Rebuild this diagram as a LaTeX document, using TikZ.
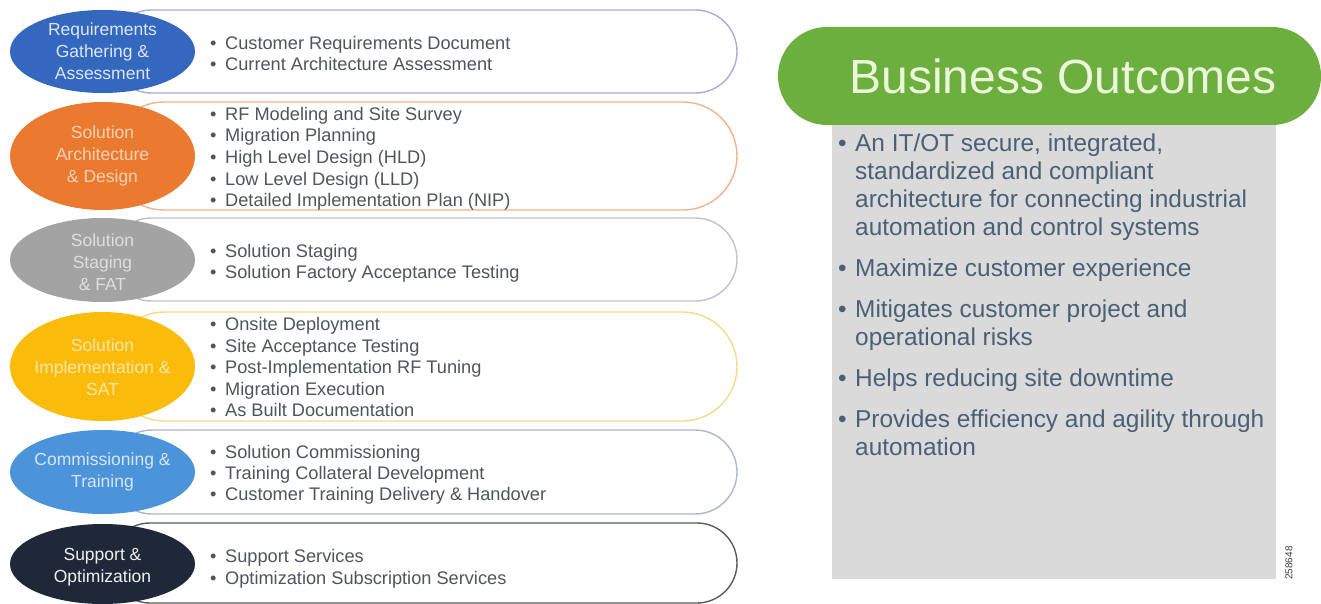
\documentclass[tikz,border=0pt]{standalone}
\usepackage{fontspec}
\setmainfont{Liberation Sans}
\usetikzlibrary{shapes.geometric}
\definecolor{eBlue}{HTML}{3467BE}
\definecolor{eOrange}{HTML}{E97A2F}
\definecolor{eGrey}{HTML}{A3A3A3}
\definecolor{eYellow}{HTML}{FBBB0A}
\definecolor{eLBlue}{HTML}{4C94DA}
\definecolor{eNavy}{HTML}{1F2838}
\definecolor{oBlue}{HTML}{A9ABDA}
\definecolor{oOrange}{HTML}{F2B08C}
\definecolor{oGrey}{HTML}{BFC3CF}
\definecolor{oYellow}{HTML}{F6D98A}
\definecolor{oLBlue}{HTML}{AEB8C8}
\definecolor{oNavy}{HTML}{5A5A5A}
\definecolor{lBlue}{HTML}{DCE6F7}
\definecolor{lOrange}{HTML}{FAD2B5}
\definecolor{lGrey}{HTML}{DEDEDE}
\definecolor{lYellow}{HTML}{FEE7A8}
\definecolor{lLBlue}{HTML}{D6E6F6}
\definecolor{lNavy}{HTML}{F0F0F0}
\definecolor{listc}{HTML}{50555B}
\definecolor{outc}{HTML}{4A6076}
\definecolor{gGreen}{HTML}{6CAF3F}
\definecolor{gText}{HTML}{EAF7D8}
\definecolor{boxGrey}{HTML}{DADADA}
\begin{document}
\begin{tikzpicture}[x=1pt,y=-1pt,
  capsule/.style={line width=1.4pt,fill=white},
  phase/.style={ellipse,draw=none,minimum width=185pt,inner sep=0pt},
  plabel/.style={align=center,font=\fontsize{17.5}{22}\selectfont,inner sep=0pt},
  item/.style={anchor=base west,inner sep=0pt,text=listc,font=\fontsize{18.2}{21}\selectfont},
  outitem/.style={anchor=base west,inner sep=0pt,text=outc,font=\fontsize{24.4}{28}\selectfont}]
\useasboundingbox (0,0) rectangle (1321,604);

% ---------- left phases ----------
% row 1
\draw[capsule,draw=oBlue,rounded corners=41.5pt] (110,10) rectangle (737,93);
\node[phase,fill=eBlue,minimum height=83pt] (e1) at (102.5,51.5) {};
\node[plabel,text=lBlue] (t1) at (e1) {Requirements\\Gathering \&\\Assessment};
% row 2
\draw[capsule,draw=oOrange,rounded corners=54pt] (110,102) rectangle (737,210);
\node[phase,fill=eOrange,minimum height=108pt] (e2) at (102.5,156) {};
\node[plabel,text=lOrange] (t2) at (e2) {Solution\\Architecture\\\& Design};
% row 3
\draw[capsule,draw=oGrey,rounded corners=41.5pt] (110,218) rectangle (737,301);
\node[phase,fill=eGrey,minimum height=84pt] (e3) at (102.5,260) {};
\node[plabel,text=lGrey] (t3) at (102.5,262) {Solution\\Staging\\\& FAT};
% row 4
\draw[capsule,draw=oYellow,rounded corners=54.5pt] (110,312) rectangle (737,421);
\node[phase,fill=eYellow,minimum height=109pt] (e4) at (102.5,366.5) {};
\node[plabel,text=lYellow] (t4) at (102.5,367) {Solution\\Implementation \&\\SAT};
% row 5
\draw[capsule,draw=oLBlue,rounded corners=42pt] (110,430) rectangle (737,514);
\node[phase,fill=eLBlue,minimum height=84pt] (e5) at (102.5,472) {};
\node[plabel,text=lLBlue] (t5) at (e5) {Commissioning \&\\Training};
% row 6
\draw[capsule,draw=oNavy,rounded corners=40pt] (110,523) rectangle (737,603);
\node[phase,fill=eNavy,minimum height=80pt] (e6) at (102.5,564) {};
\node[plabel,text=lNavy] (t6) at (102.5,567) {Support \&\\Optimization};

% ---------- items ----------
\foreach \yy/\tx in {43/Customer Requirements Document,64/Current Architecture Assessment,
  114/RF Modeling and Site Survey,135/Migration Planning,157/High Level Design (HLD),
  179/Low Level Design (LLD),200/Detailed Implementation Plan (NIP),
  251/Solution Staging,272/Solution Factory Acceptance Testing,
  324/Onsite Deployment,346/Site Acceptance Testing,367/Post-Implementation RF Tuning,
  389/Migration Execution,410/As Built Documentation,
  452/Solution Commissioning,473/Training Collateral Development,494/Customer Training Delivery \& Handover,
  556/Support Services,578/Optimization Subscription Services}
  \node[item] at (210,\yy+6.4) {\makebox[15pt][l]{•}\tx};

% ---------- business outcomes ----------
\fill[boxGrey] (832,110) rectangle (1276,579);
\node[fill=gGreen,rounded corners=49pt,minimum width=543pt,minimum height=98pt,inner sep=0pt]
  (bo) at (1049.5,76) {};
\node[text=gText,font=\fontsize{48}{50}\selectfont,inner sep=0pt] (bot) at (1063,76) {Business Outcomes};

\node[outitem] (b1) at (838,143+8.6) {\makebox[17pt][l]{•}An IT/OT secure, integrated,};
\node[outitem] (b1b) at (855,171+8.6) {standardized and compliant};
\node[outitem] (b1c) at (855,199+8.6) {architecture for connecting industrial};
\node[outitem] (b1d) at (855,227+8.6) {automation and control systems};
\node[outitem] (b2) at (838,268+8.6) {\makebox[17pt][l]{•}Maximize customer experience};
\node[outitem] (b3) at (838,309+8.6) {\makebox[17pt][l]{•}Mitigates customer project and};
\node[outitem] (b3b) at (855,337+8.6) {operational risks};
\node[outitem] (b4) at (838,378+8.6) {\makebox[17pt][l]{•}Helps reducing site downtime};
\node[outitem] (b5) at (838,419+8.6) {\makebox[17pt][l]{•}Provides efficiency and agility through};
\node[outitem] (b5b) at (855,447+8.6) {automation};

\node[rotate=90,font=\fontsize{10}{11}\selectfont,text=black!75,inner sep=0pt] (num) at (1289,563) {258648};
\end{tikzpicture}
\end{document}
